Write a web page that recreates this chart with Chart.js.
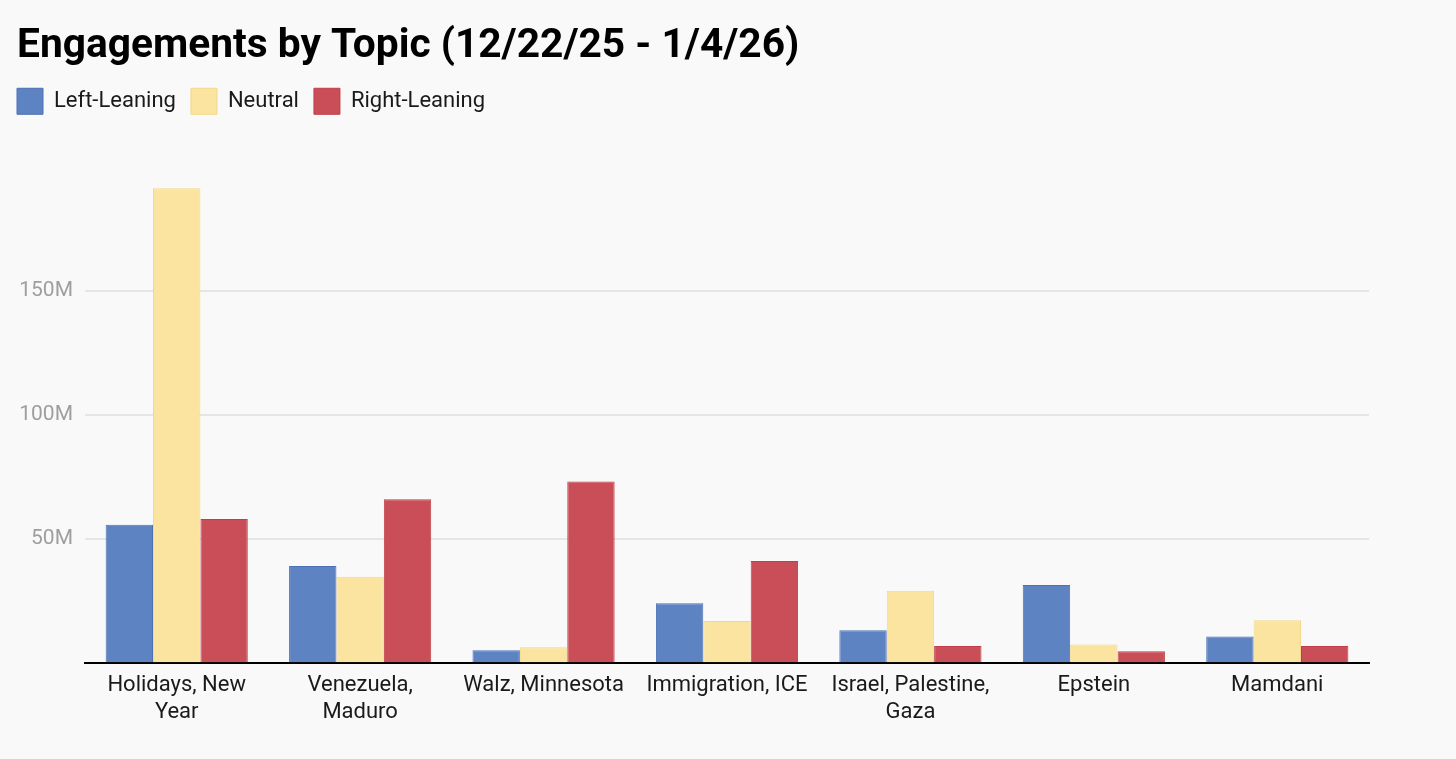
<!DOCTYPE html>
<html>
<head>
<meta charset="utf-8">
<script src="https://cdn.jsdelivr.net/npm/chart.js@4.4.1/dist/chart.umd.min.js"></script>
<style>
  html, body { margin: 0; padding: 0; background: #f9f9f9; }
  #wrap { width: 1456px; height: 759px; position: relative; }
</style>
</head>
<body>
<div id="wrap"><canvas id="c"></canvas></div>
<script>
const categories = [
  ['Holidays, New', 'Year'],
  ['Venezuela,', 'Maduro'],
  'Walz, Minnesota',
  'Immigration, ICE',
  ['Israel, Palestine,', 'Gaza'],
  'Epstein',
  'Mamdani'
];
const leftLeaning  = [55.8e6, 39.2e6, 5.3e6, 24.2e6, 13.3e6, 31.5e6, 10.8e6];
const neutral      = [191.2e6, 34.8e6, 6.5e6, 17.0e6, 29.2e6, 7.6e6, 17.3e6];
const rightLeaning = [58.1e6, 66.0e6, 73.2e6, 41.2e6, 7.0e6, 4.9e6, 7.0e6];
const yTicks = [50e6, 100e6, 150e6];

Chart.defaults.font.family = 'Roboto, "Noto Sans", sans-serif';

const LEGEND_PAD = 15;
const LEGEND_LIFT = 42;
const legendShift = {
  id: 'legendShift',
  afterLayout(chart) {
    const lg = chart.legend;
    if (lg) {
      lg.left -= LEGEND_PAD;
      lg.top -= LEGEND_LIFT;
      lg.bottom -= LEGEND_LIFT;
    }
  }
};

new Chart(document.getElementById('c'), {
  type: 'bar',
  data: {
    labels: categories,
    datasets: [
      { label: 'Left-Leaning', data: leftLeaning, backgroundColor: '#5e83c2', borderColor: '#4b71b7', borderWidth: 1 },
      { label: 'Neutral', data: neutral, backgroundColor: '#fbe49f', borderColor: '#f3d889', borderWidth: 1 },
      { label: 'Right-Leaning', data: rightLeaning, backgroundColor: '#ca4e57', borderColor: '#c03e49', borderWidth: 1 }
    ]
  },
  options: {
    responsive: true,
    maintainAspectRatio: false,
    animation: false,
    layout: { padding: { left: 17, right: 87, top: 24, bottom: 24 } },
    datasets: { bar: { categoryPercentage: 0.775, barPercentage: 1.0 } },
    plugins: {
      title: {
        display: true,
        text: 'Engagements by Topic (12/22/25 - 1/4/26)',
        align: 'start',
        color: '#000',
        font: { size: 40.7, weight: 'bold', lineHeight: 1.1 },
        padding: { top: 0, bottom: 46.5 }
      },
      legend: {
        display: true,
        align: 'start',
        labels: {
          boxWidth: 26,
          boxHeight: 26,
          padding: LEGEND_PAD,
          color: '#1a1a1a',
          font: { size: 22 }
        }
      },
      tooltip: { enabled: false }
    },
    scales: {
      x: {
        grid: { display: false, drawTicks: false },
        border: { display: true, color: '#000', width: 2 },
        ticks: {
          color: '#1a1a1a',
          font: { size: 22, lineHeight: 1.22 },
          padding: 9,
          maxRotation: 0,
          autoSkip: false
        }
      },
      y: {
        min: 0,
        max: 200e6,
        border: { display: false },
        grid: {
          drawTicks: false,
          lineWidth: 2,
          color: (ctx) => (ctx.tick && yTicks.includes(ctx.tick.value)) ? '#e6e6e6' : 'rgba(0,0,0,0)'
        },
        afterBuildTicks: (scale) => {
          scale.ticks = [0, ...yTicks, 200e6].map(v => ({ value: v }));
        },
        afterFit: (scale) => { scale.width = 68; },
        ticks: {
          color: '#9e9e9e',
          font: { size: 21 },
          padding: 12,
          callback: (v) => yTicks.includes(v) ? (v / 1e6) + 'M' : ''
        }
      }
    }
  },
  plugins: [legendShift]
});
</script>
</body>
</html>
